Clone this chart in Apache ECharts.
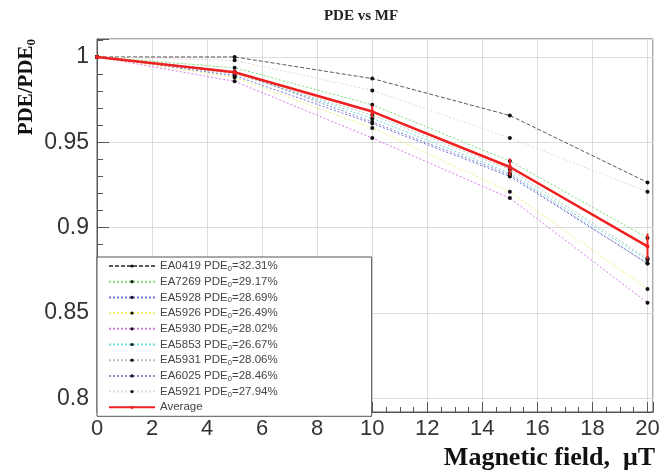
<!DOCTYPE html>
<html>
<head>
<meta charset="utf-8">
<script src="https://cdn.jsdelivr.net/npm/echarts@6/dist/echarts.min.js"></script>
<style>
  html, body { margin: 0; padding: 0; background: #fff; }
  #chart { width: 667px; height: 476px; }
</style>
</head>
<body>
<div id="chart"></div>
<script>
// Magnetic field values (µT)
const fieldValues = [0, 5, 10, 15, 20];

// Sensor names and their PDE at zero field (%)
const sensorNames = ['EA0419', 'EA7269', 'EA5928', 'EA5926', 'EA5930', 'EA5853', 'EA5931', 'EA6025', 'EA5921'];
const sensorPde0 = ['32.31', '29.17', '28.69', '26.49', '28.02', '26.67', '28.06', '28.46', '27.94'];

// Relative PDE (PDE/PDE0) per sensor
const ea0419 = [1, 1.0, 0.9873, 0.9657, 0.9265];
const ea7269 = [1, 0.9937, 0.972, 0.939, 0.894];
const ea5928 = [1, 0.989, 0.961, 0.930, 0.879];
const ea5926 = [1, 0.988, 0.9584, 0.921, 0.864];
const ea5930 = [1, 0.9857, 0.9525, 0.9173, 0.856];
const ea5853 = [1, 0.991, 0.964, 0.932, 0.881];
const ea5931 = [1, 0.990, 0.966, 0.934, 0.882];
const ea6025 = [1, 0.9915, 0.962, 0.931, 0.879];
const ea5921 = [1, 0.998, 0.9804, 0.9525, 0.921];

// Average over sensors and its uncertainty
const averageValues = [1, 0.991, 0.968, 0.9355, 0.889];
const averageErrors = [0, 0.0015, 0.0035, 0.005, 0.0075];

// Tick labels
const xTickValues = [0, 2, 4, 6, 8, 10, 12, 14, 16, 18, 20];
const yTickValues = [0.8, 0.85, 0.9, 0.95, 1];

const sensorValues = [ea0419, ea7269, ea5928, ea5926, ea5930, ea5853, ea5931, ea6025, ea5921];
const sensorColors = ['#5a5a5a', '#7ae07a', '#7272e6', '#efef7a', '#de7aee', '#6adede', '#b6c6b6', '#8e8ec8', '#e8d8cc'];
const sensorDash = [[4, 2], [2, 2], [2, 2], [2, 2], [2, 2], [2, 2], [2, 2], [2, 2], [2, 2]];

const pair = (vals) => fieldValues.map((x, i) => [x, vals[i]]);

const series = sensorNames.map((name, k) => ({
  name: name,
  type: 'line',
  data: pair(sensorValues[k]),
  symbol: 'circle',
  symbolSize: 4,
  showSymbol: true,
  lineStyle: { color: sensorColors[k], width: 1, type: sensorDash[k] },
  itemStyle: { color: '#111' },
  emphasis: { disabled: true },
  z: 3
}));

series.push({
  name: 'Average',
  type: 'line',
  data: pair(averageValues),
  symbol: 'circle',
  symbolSize: 4,
  lineStyle: { color: '#ee2020', width: 2.5 },
  itemStyle: { color: '#ee2020' },
  emphasis: { disabled: true },
  z: 5
});

// Vertical error bars on the average
series.push({
  name: 'AverageErr',
  type: 'custom',
  data: fieldValues.map((x, i) => [x, averageValues[i] - averageErrors[i], averageValues[i] + averageErrors[i]]),
  renderItem: function (params, api) {
    const p0 = api.coord([api.value(0), api.value(1)]);
    const p1 = api.coord([api.value(0), api.value(2)]);
    return {
      type: 'line',
      shape: { x1: p0[0], y1: p0[1], x2: p1[0], y2: p1[1] },
      style: { stroke: '#ee2020', lineWidth: 2 }
    };
  },
  z: 6
});

const legendText = {};
sensorNames.forEach((n, k) => { legendText[n] = n + ' PDE{s|0}=' + sensorPde0[k] + '%'; });
legendText['Average'] = 'Average';

const chart = echarts.init(document.getElementById('chart'), null, { renderer: 'canvas' });
chart.setOption({
  animation: false,
  backgroundColor: '#fff',
  title: {
    text: 'PDE vs MF',
    left: 356, top: 4, textAlign: 'center',
    textStyle: { fontFamily: 'Liberation Serif', fontWeight: 'bold', fontSize: 15, color: '#222' }
  },
  grid: { left: 97, right: 14, top: 39, bottom: 64, show: true, borderColor: '#555', borderWidth: 1, backgroundColor: 'transparent' },
  xAxis: {
    type: 'value', min: 0, max: 20.2, interval: 2,
    axisLine: { show: true, lineStyle: { color: '#555' } },
    axisTick: { show: true, inside: true, length: 10, lineStyle: { color: '#555' } },
    minorTick: { show: true, splitNumber: 4, length: 5, lineStyle: { color: '#555' } },
    splitLine: { show: true, lineStyle: { color: '#dcdcdc', width: 1 } },
    axisLabel: {
      fontFamily: 'Liberation Sans', fontSize: 22, color: '#333', margin: 6,
      showMaxLabel: false,
      formatter: (v) => (xTickValues.indexOf(v) >= 0 ? String(v) : '')
    }
  },
  yAxis: {
    type: 'value', min: 0.792, max: 1.0105, splitNumber: 4, minInterval: 0.05, maxInterval: 0.05,
    axisLine: { show: true, lineStyle: { color: '#555' } },
    axisTick: { show: true, inside: true, length: 12, lineStyle: { color: '#555' } },
    minorTick: { show: true, splitNumber: 5, length: 6, lineStyle: { color: '#555' } },
    splitLine: { show: true, lineStyle: { color: '#dcdcdc', width: 1 } },
    axisLabel: {
      fontFamily: 'Liberation Sans', fontSize: 23, color: '#333', margin: 8,
      showMinLabel: false, showMaxLabel: false,
      formatter: (v) => {
        const hit = yTickValues.find(t => Math.abs(t - v) < 1e-6);
        return hit === undefined ? '' : String(hit);
      }
    }
  },
  legend: {
    orient: 'vertical',
    left: 97, top: 257,
    padding: [2, 94, 2, 11],
    itemGap: 1.7,
    itemWidth: 46, itemHeight: 4,
    backgroundColor: '#fff',
    borderColor: '#555', borderWidth: 1,
    data: sensorNames.concat(['Average']),
    formatter: (name) => legendText[name],
    textStyle: {
      fontFamily: 'Liberation Sans', fontSize: 11.5, color: '#444', lineHeight: 14,
      rich: { s: { fontFamily: 'Liberation Sans', fontSize: 7.5, color: '#444', verticalAlign: 'bottom', padding: [5, 0, 0, 0] } }
    },
    selectedMode: false
  },
  graphic: [
    {
      type: 'text',
      x: 16, y: 39,
      rotation: Math.PI / 2,
      style: {
        text: 'PDE/PDE{s|0}',
        fontFamily: 'Liberation Serif', fontWeight: 'bold', fontSize: 21, fill: '#111',
        align: 'right', verticalAlign: 'top',
        rich: { s: { fontFamily: 'Liberation Serif', fontWeight: 'bold', fontSize: 13, fill: '#111', padding: [9, 0, 0, 0] } }
      }
    },
    {
      type: 'text',
      x: 655, y: 445,
      style: {
        text: 'Magnetic field,  \u03bcT',
        fontFamily: 'Liberation Serif', fontWeight: 'bold', fontSize: 26, fill: '#111',
        align: 'right', verticalAlign: 'top'
      }
    }
  ],
  series: series
});
</script>
</body>
</html>
